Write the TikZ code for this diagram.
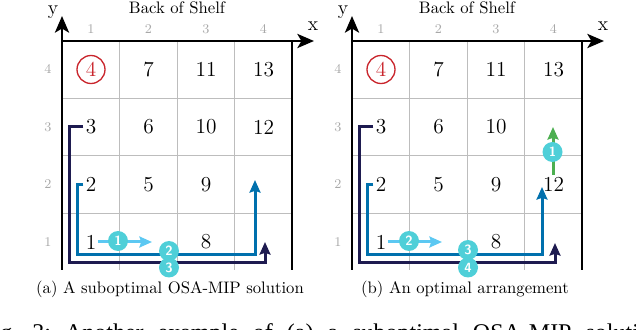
\documentclass[tikz,border=0pt]{standalone}
\usepackage{fontspec}
\newfontfamily\capfont{Liberation Serif}
\usetikzlibrary{arrows.meta}
\definecolor{navyc}{HTML}{1E1B50}
\definecolor{bluec}{HTML}{0070AD}
\definecolor{skyc}{HTML}{5CC8F2}
\definecolor{tealc}{HTML}{4FCFD8}
\definecolor{greenc}{HTML}{4CAF50}
\definecolor{redc}{HTML}{C9252C}
\definecolor{gridc}{HTML}{BDBDBD}
\definecolor{tickc}{HTML}{A8A8A8}
\newcommand{\widecap}[1]{{\capfont\fontsize{14.4}{17}\selectfont\frenchspacing\spaceskip=8.4pt\relax #1}}
\begin{document}
\begin{tikzpicture}[x=0.6pt,y=-0.6pt,
  gridline/.style={draw=gridc, line width=0.5pt},
  border/.style={draw=black, line width=1.3pt},
  axisline/.style={draw=black, line width=1.4pt, -{Stealth[length=10pt,width=8.5pt,inset=2.5pt]}},
  tick/.style={text=tickc, font=\footnotesize, inner sep=0pt},
  cellnum/.style={font=\fontsize{12.8}{15}\selectfont, inner sep=0pt},
  axlabel/.style={font=\large, inner sep=0pt},
  redcirc/.style={circle, draw=redc, line width=0.8pt, text=redc, minimum size=16.8pt, inner sep=0pt, font=\fontsize{12.8}{15}\selectfont},
  pathline/.style={line width=1.8pt, -{Stealth[length=7.5pt,width=6.5pt,inset=1pt]}},
  badge/.style={circle, fill=tealc, text=white, minimum size=12pt, inner sep=0pt, font=\sffamily\bfseries\footnotesize},
  subcap/.style={font=\normalsize, inner sep=0pt}
]
\useasboundingbox (0,0) rectangle (636,330);

% ---- common parts of both panels ----
\foreach \ox/\p in {0/a,290/b}{
  \foreach \gx in {119.5,177,234.5}
    \draw[gridline] (\ox+\gx,41) -- (\ox+\gx,270);
  \foreach \gy in {98,155.5,213}
    \draw[gridline] (\ox+62,\gy) -- (\ox+292,\gy);
  \draw[border] (\ox+292,41) -- (\ox+292,270);
  \draw[axisline] (\ox+62,270) -- (\ox+62,16);
  \draw[axisline] (\ox+61.2,41) -- (\ox+314,41);
  \node[axlabel] (\p-xl) at (\ox+313,26) {x};
  \node[axlabel] (\p-yl) at (\ox+53,12) {y};
  \node[subcap] (\p-back) at (\ox+177,8) {Back of Shelf};
  \foreach \i/\cx in {1/91,2/148.5,3/206,4/263.5}
    \node[tick] (\p-tx\i) at (\ox+\cx,29) {\i};
  \foreach \i/\cy in {4/69.5,3/127,2/184.5,1/242}
    \node[tick] (\p-ty\i) at (\ox+48,\cy) {\i};
  \node[redcirc] (\p-n4) at (\ox+91,69.5) {4};
  \node[cellnum] (\p-n7) at (\ox+148.5,69.5) {7};
  \node[cellnum] (\p-n11) at (\ox+206,69.5) {11};
  \node[cellnum] (\p-n13) at (\ox+263.5,69.5) {13};
  \node[cellnum] (\p-n3) at (\ox+91,127) {3};
  \node[cellnum] (\p-n6) at (\ox+148.5,127) {6};
  \node[cellnum] (\p-n10) at (\ox+206,127) {10};
  \node[cellnum] (\p-n2) at (\ox+91,184.5) {2};
  \node[cellnum] (\p-n5) at (\ox+148.5,184.5) {5};
  \node[cellnum] (\p-n9) at (\ox+206,184.5) {9};
  \node[cellnum] (\p-n1) at (\ox+91,242) {1};
  \node[cellnum] (\p-n8) at (\ox+206,242) {8};
}

% ---- panel (a) ----
\node[cellnum] (a-n12) at (263.5,127) {12};
\coordinate (a-navyend) at (265,242);
\coordinate (a-blueend) at (255,180);
\coordinate (a-skyend) at (152,242);
\draw[pathline, navyc] ([xshift=-1.2pt]a-n3.west) -| (69.5,263) -| (a-navyend);
\draw[pathline, bluec] ([xshift=-1.2pt]a-n2.west) -| (77,255) -| (a-blueend);
\draw[pathline, skyc] ([xshift=0.6pt]a-n1.east) -- (a-skyend);
\node[badge] (a-b1) at (118,241) {1};
\node[badge] (a-b2) at (169,251) {2};
\node[badge] (a-b3) at (169,267.5) {3};
\node[subcap] (a-cap) at (170,289) {(a) A suboptimal OSA-MIP solution};

% ---- panel (b) ----
\node[cellnum] (b-n12) at (553.5,184.5) {12};
\coordinate (b-navyend) at (555,243);
\coordinate (b-blueend) at (542,187);
\coordinate (b-skyend) at (442,242);
\coordinate (b-greenend) at (553,127);
\draw[pathline, navyc] ([xshift=-1.2pt]b-n3.west) -| (359.5,263) -| (b-navyend);
\draw[pathline, bluec] ([xshift=-1.2pt]b-n2.west) -| (367,255) -| (b-blueend);
\draw[pathline, skyc] ([xshift=0.6pt]b-n1.east) -- (b-skyend);
\draw[pathline, greenc] ([shift={(-0.3pt,1.5pt)}]b-n12.north) -- (b-greenend);
\node[badge] (b-b1) at (552.5,152) {1};
\node[badge] (b-b2) at (409,241) {2};
\node[badge] (b-b3) at (468,250) {3};
\node[badge] (b-b4) at (468,267.5) {4};
\node[subcap] (b-cap) at (465,289) {(b) An optimal arrangement};

% ---- figure caption, cut by the lower edge ----
\node[anchor=base west, inner sep=0pt] (figcap) at (-20,340)
  {\widecap{Fig. 3: Another example of (a) a suboptimal OSA-MIP solution}};
\end{tikzpicture}
\end{document}
